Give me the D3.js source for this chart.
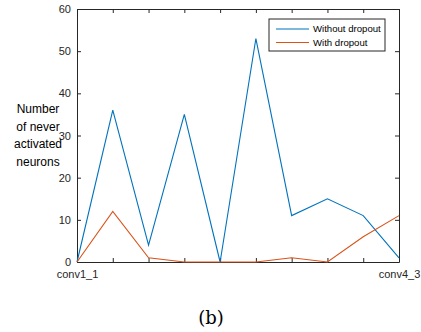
<!DOCTYPE html>
<html>
<head>
<meta charset="utf-8">
<script src="https://cdn.jsdelivr.net/npm/d3@7"></script>
<style>
body{margin:0;background:#fff;}
text{font-family:"Liberation Sans",Arial,sans-serif;}
</style>
</head>
<body>
<div id="chart"></div>
<script>
// data
const layers=["conv1_1","l2","l3","l4","l5","l6","l7","l8","l9","conv4_3"];
const withoutDropout=[0,36,4,35,0,53,11,15,11,1];
const withDropout=[0,12,1,0,0,0,1,0,6,11];
const yTicks=[0,10,20,30,40,50,60];
const xLabels=["conv1_1","conv4_3"];
const seriesNames=["Without dropout","With dropout"];
const colors=["#0072BD","#D95319"];

const W=421,H=332;
const margin={top:9,right:22,bottom:70,left:77};
const width=W-margin.left-margin.right;
const height=H-margin.top-margin.bottom;

let svg=d3.select("#chart").append("svg")
    .attr("width",W).attr("height",H)

let g=svg.append("g")
    .attr("transform",`translate(${margin.left},${margin.top})`)

let x=d3.scalePoint().domain(layers).range([0,width])
let y=d3.scaleLinear().domain([0,60]).range([height,0])

const axisColor="#262626"

//axes (box with inward ticks)
let xb=g.append("g").attr("transform",`translate(0,${height})`)
    .call(d3.axisBottom(x).tickSizeInner(-4).tickSizeOuter(0)
        .tickFormat(d=>xLabels.includes(d)?d:""))
let xt=g.append("g")
    .call(d3.axisTop(x).tickSizeInner(-4).tickSizeOuter(0).tickFormat(""))
let yl=g.append("g")
    .call(d3.axisLeft(y).tickValues(yTicks).tickSizeInner(-4).tickSizeOuter(0))
let yr=g.append("g").attr("transform",`translate(${width},0)`)
    .call(d3.axisRight(y).tickValues(yTicks).tickSizeInner(-4).tickSizeOuter(0).tickFormat(""))

;[xb,xt,yl,yr].forEach(a=>{
    a.select(".domain").attr("stroke",axisColor).attr("stroke-width",1)
    a.selectAll(".tick line").attr("stroke",axisColor)
    a.selectAll("text").attr("fill",axisColor).style("font-size","11px")
        .style("font-family","'Liberation Sans',Arial,sans-serif")
})
xb.selectAll(".tick text").attr("y",8).attr("dy","0.71em")
yl.selectAll(".tick text").attr("x",-6)

//lines
let line=d3.line().x((d,i)=>x(layers[i])).y(d=>y(d))
;[withoutDropout,withDropout].forEach((s,i)=>{
    g.append("path").datum(s)
    .attr("fill","none")
    .attr("stroke",colors[i])
    .attr("stroke-width",1.1)
    .attr("d",line)
})

//legend
let lg=g.append("g").attr("transform",`translate(${192},${10})`)
lg.append("rect").attr("width",116).attr("height",32)
    .attr("fill","#fff").attr("stroke",axisColor).attr("stroke-width",1)
seriesNames.forEach((n,i)=>{
    lg.append("line").attr("x1",7).attr("x2",40)
    .attr("y1",10+i*13.5).attr("y2",10+i*13.5)
    .attr("stroke",colors[i]).attr("stroke-width",1.1)
    lg.append("text").attr("x",44).attr("y",10+i*13.5).attr("dy","0.35em")
    .style("font-size","9.6px").attr("fill","#000").text(n)
})

//y label
const yLabel=["Number","of never","activated","neurons"]
svg.append("text")
    .attr("text-anchor","middle")
    .style("font-size","12px")
    .attr("fill","#000")
    .selectAll("tspan").data(yLabel).enter().append("tspan")
    .attr("x",38).attr("y",(d,i)=>113+i*17.7).text(d=>d)

//caption
svg.append("text")
    .attr("x",211).attr("y",324)
    .attr("text-anchor","middle")
    .style("font-family","'DejaVu Serif','Liberation Serif',serif")
    .style("font-size","18px")
    .text("(b)")
</script>
</body>
</html>
